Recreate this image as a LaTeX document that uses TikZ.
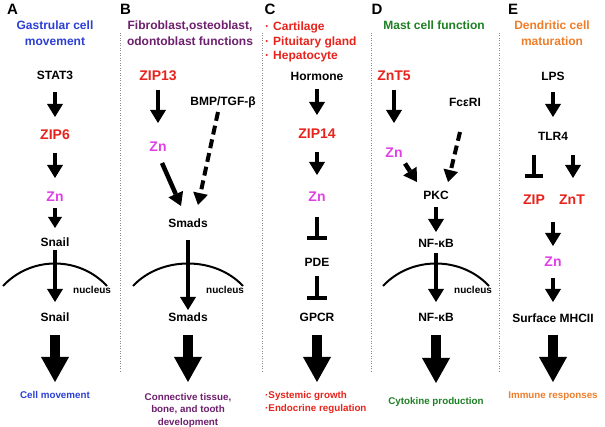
\documentclass[tikz,border=0pt]{standalone}
\usepackage{fontspec}
\setmainfont{Liberation Sans}
\usetikzlibrary{arrows.meta,calc}
\definecolor{cblue}{HTML}{2B3FD4}
\definecolor{cpurple}{HTML}{6E1F6E}
\definecolor{cred}{HTML}{E8231C}
\definecolor{cmag}{HTML}{E040E6}
\definecolor{cgreen}{HTML}{1E8024}
\definecolor{corange}{HTML}{F07D2A}
\definecolor{csep}{HTML}{8A8A8A}
\begin{document}
\begin{tikzpicture}[x=1pt,y=-1pt,
 lbl/.style={font=\fontsize{12}{14}\selectfont\bfseries, inner sep=0pt, text height=8.6pt, text depth=0pt},
 rlbl/.style={font=\fontsize{14}{16}\selectfont\bfseries, text=cred, inner sep=0pt, text height=10pt, text depth=0pt},
 zlbl/.style={rlbl, text=cmag},
 panel/.style={font=\fontsize{15}{17}\selectfont\bfseries, inner sep=0pt, text height=10.7pt, text depth=0pt},
 res/.style={font=\fontsize{9.8}{12}\selectfont\bfseries, inner sep=0pt, text height=7pt, text depth=0pt},
 nuc/.style={font=\fontsize{10}{12}\selectfont\bfseries, inner sep=0pt, text height=7.2pt, text depth=0pt, anchor=west},
 arr/.style={line width=4.5pt, -{Triangle[width=16pt,length=13pt,line width=0pt]}},
 sarr/.style={line width=4pt, -{Triangle[width=14pt,length=11pt,line width=0pt]}},
 darr/.style={line width=4pt, dash pattern=on 9pt off 5pt, -{Triangle[width=15pt,length=12pt,line width=0pt]}},
 inh/.style={line width=4pt, -{Bar[width=20pt]}},
 big/.style={line width=10pt, -{Triangle[width=28pt,length=25pt,line width=0pt]}},
 memb/.style={line width=2pt},
 sep/.style={csep, line width=1pt, dash pattern=on 1pt off 1.5pt},
]
\fill[white] (0,0) rectangle (605,427);
\useasboundingbox (0,0) rectangle (605,427);

% separators
\foreach \x in {120,262,371,499} \draw[sep] (\x,33) -- (\x,372);

% panel letters
\node[panel] (pA) at (12.5,9) {A};
\node[panel] (pB) at (125.5,9) {B};
\node[panel] (pC) at (270,9) {C};
\node[panel] (pD) at (377,9) {D};
\node[panel] (pE) at (513,9) {E};

% ---------- A ----------
\node[lbl,text=cblue] (tA1) at (55,25) {Gastrular cell};
\node[lbl,text=cblue] (tA2) at (55,41) {movement};
\node[lbl] (stat3) at (55,75) {STAT3};
\node[rlbl] (zip6) at (55,135) {ZIP6};
\node[zlbl] (znA) at (55,197) {Zn};
\node[lbl] (snailA) at (55,242) {Snail};
\node[lbl] (snailA2) at (55,317) {Snail};
\node[res,text=cblue] (resA) at (55,395) {Cell movement};
\draw[arr] ($(stat3)+(0,17)$) -- ($(zip6)+(0,-18)$);
\draw[arr] ($(zip6)+(0,18)$) -- ($(znA)+(0,-19)$);
\draw[sarr] ($(znA)+(0,11)$) -- ($(snailA)+(0,-14)$);
\draw[memb] (3,286) .. controls (31,256) and (79,256) .. (107,286);
\draw[arr] ($(snailA)+(0,8)$) -- ($(snailA2)+(0,-15)$);
\node[nuc] (nucA) at (73,290) {nucleus};
\draw[big] ($(snailA2)+(0,18)$) -- ($(resA)+(0,-13)$);

% ---------- B ----------
\node[lbl,text=cpurple] (tB1) at (190,25) {Fibroblast,osteoblast,};
\node[lbl,text=cpurple] (tB2) at (190,41) {odontoblast functions};
\node[rlbl] (zip13) at (158,76) {ZIP13};
\node[zlbl] (znB) at (158,147) {Zn};
\node[lbl] (bmp) at (223,101) {BMP/TGF-β};
\node[lbl] (smadsB) at (188,223) {Smads};
\node[lbl] (smadsB2) at (188,317) {Smads};
\node[res,text=cpurple] (resB1) at (188,397) {Connective tissue,};
\node[res,text=cpurple] (resB2) at (188,409.5) {bone, and tooth};
\node[res,text=cpurple] (resB3) at (188,422) {development};
\draw[arr] ($(zip13)+(0,14)$) -- ($(znB)+(0,-24)$);
\draw[arr] ($(znB)+(4,16)$) -- ($(smadsB)+(-7,-17)$);
\draw[darr] ($(bmp)+(-5,11)$) -- ($(smadsB)+(10,-18)$);
\draw[memb] (133,286) .. controls (161,256) and (215,256) .. (243,286);
\draw[arr] ($(smadsB)+(0,17)$) -- ($(smadsB2)+(0,-7)$);
\node[nuc] (nucB) at (206,290) {nucleus};
\draw[big] ($(smadsB2)+(0,18)$) -- ($(resB1)+(0,-15)$);

% ---------- C ----------
\node[lbl,text=cred,anchor=west] (cl1) at (265,26) {·\hspace{4pt}Cartilage};
\node[lbl,text=cred,anchor=west] (cl2) at (265,41) {·\hspace{4pt}Pituitary gland};
\node[lbl,text=cred,anchor=west] (cl3) at (265,55) {·\hspace{4pt}Hepatocyte};
\node[lbl] (hormone) at (317,76) {Hormone};
\node[rlbl] (zip14) at (317,134) {ZIP14};
\node[zlbl] (znC) at (317,197) {Zn};
\node[lbl] (pde) at (317,262) {PDE};
\node[lbl] (gpcr) at (317,317) {GPCR};
\node[res,text=cred,anchor=west] (resC1) at (265,395) {·Systemic growth};
\node[res,text=cred,anchor=west] (resC2) at (265,408) {·Endocrine regulation};
\draw[arr] ($(hormone)+(0,13)$) -- ($(zip14)+(0,-19)$);
\draw[arr] ($(zip14)+(0,18)$) -- ($(znC)+(0,-22)$);
\draw[inh] ($(znC)+(0,20)$) -- ($(pde)+(0,-22)$);
\draw[inh] ($(pde)+(0,14)$) -- ($(gpcr)+(0,-17)$);
\draw[big] ($(gpcr)+(0,18)$) -- ($(gpcr)+(0,65)$);

% ---------- D ----------
\node[lbl,text=cgreen] (tD) at (434,25) {Mast cell function};
\node[rlbl] (znt5) at (394,76) {ZnT5};
\node[zlbl] (znD) at (394,152.5) {Zn};
\node[lbl] (fceri) at (465,102) {FcεRI};
\node[lbl] (pkc) at (436,195) {PKC};
\node[lbl] (nfkb) at (436,243) {NF-κB};
\node[lbl] (nfkb2) at (436,317) {NF-κB};
\node[res,text=cgreen] (resD) at (436,401) {Cytokine production};
\draw[arr] ($(znt5)+(0,14)$) -- ($(znD)+(0,-29.5)$);
\draw[arr] ($(znD)+(11,11)$) -- ($(pkc)+(-19,-13)$);
\draw[darr] ($(fceri)+(-5,30)$) -- ($(pkc)+(12,-13)$);
\draw[arr] ($(pkc)+(0,12)$) -- ($(nfkb)+(0,-11)$);
\draw[memb] (383,286) .. controls (411,256) and (461,256) .. (489,286);
\draw[arr] ($(nfkb)+(0,10)$) -- ($(nfkb2)+(0,-15)$);
\node[nuc] (nucD) at (454,290) {nucleus};
\draw[big] ($(nfkb2)+(0,18)$) -- ($(nfkb2)+(0,66)$);

% ---------- E ----------
\node[lbl,text=corange] (tE1) at (552,25) {Dendritic cell};
\node[lbl,text=corange] (tE2) at (552,41) {maturation};
\node[lbl] (lps) at (553,76) {LPS};
\node[lbl] (tlr4) at (553,136) {TLR4};
\node[rlbl] (zip) at (534,200) {ZIP};
\node[rlbl] (znt) at (572,200) {ZnT};
\node[zlbl] (znE) at (553,262) {Zn};
\node[lbl] (mhc) at (553,318) {Surface MHCII};
\node[res,text=corange] (resE) at (553,395) {Immune responses};
\draw[arr] ($(lps)+(0,16)$) -- ($(tlr4)+(0,-19)$);
\draw[line width=4pt, -{Bar[width=18pt]}] ($(tlr4)+(-19,19)$) -- ($(zip)+(0,-22)$);
\draw[arr] ($(tlr4)+(20,19)$) -- ($(znt)+(1,-22)$);
\draw[arr] ($(zip)!0.5!(znt)+(0,22)$) -- ($(znE)+(0,-16)$);
\draw[arr] ($(znE)+(0,16)$) -- ($(mhc)+(0,-16)$);
\draw[big] ($(mhc)+(0,17)$) -- ($(resE)+(0,-13)$);
\end{tikzpicture}
\end{document}
